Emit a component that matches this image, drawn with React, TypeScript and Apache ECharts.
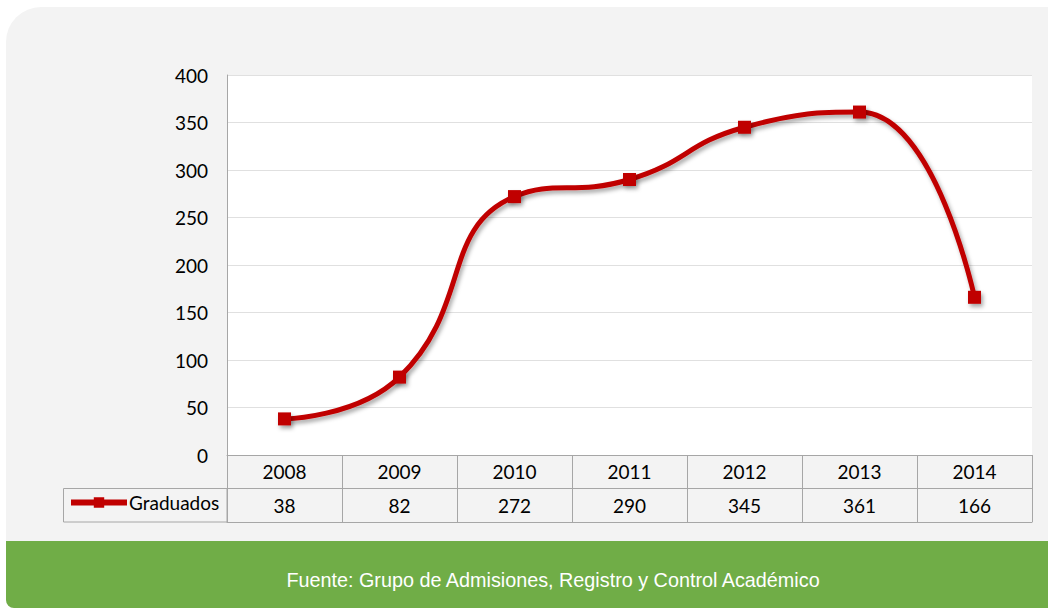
import React, { useEffect, useRef } from "react";
import * as echarts from "echarts";

const years = ["2008", "2009", "2010", "2011", "2012", "2013", "2014"];
const graduados = [38, 82, 272, 290, 345, 361, 166];
const seriesName = "Graduados";
const footerText = "Fuente: Grupo de Admisiones, Registro y Control Académico";
const yTicks = { min: 0, max: 400, interval: 50 };

const FONT = "Lato, 'Noto Sans', sans-serif";
const TABLE = "#a6a6a6";
const RED = "#c00000";

export default function App() {
  const ref = useRef<HTMLDivElement>(null);
  useEffect(() => {
    if (!ref.current) return;
    const chart = echarts.init(ref.current, null, { renderer: "svg" });
    const commonX = {
      type: "category",
      data: years,
      position: "bottom",
      boundaryGap: true,
      gridIndex: 0,
    };
    chart.setOption({
      animation: false,
      backgroundColor: "#ffffff",
      textStyle: { fontFamily: FONT },
      grid: {
        left: 227,
        right: 16,
        top: 75,
        bottom: 154,
        show: true,
        backgroundColor: "#ffffff",
        borderWidth: 0,
        containLabel: false,
      },
      legend: {
        data: [seriesName],
        left: 68,
        top: 493,
        padding: 0,
        itemWidth: 56,
        itemHeight: 13,
        itemGap: 4,
        lineStyle: { width: 6, color: RED },
        textStyle: { fontFamily: FONT, fontSize: 19, color: "#000", padding: [0, 0, 0, -3] },
      },
      yAxis: {
        type: "value",
        min: yTicks.min,
        max: yTicks.max,
        interval: yTicks.interval,
        axisLine: { show: true, lineStyle: { color: TABLE, width: 1 } },
        axisTick: { show: false },
        axisLabel: { fontFamily: FONT, fontSize: 19, color: "#000", margin: 19 },
        splitLine: { show: true, lineStyle: { color: "#e0e0e0", width: 1 } },
      },
      xAxis: [
        {
          ...commonX,
          axisLine: { show: true, lineStyle: { color: TABLE, width: 1 } },
          axisTick: {
            show: true,
            interval: 0,
            length: 67,
            lineStyle: { color: TABLE, width: 1 },
          },
          axisLabel: {
            interval: 0,
            fontFamily: FONT,
            fontSize: 19,
            color: "#000",
            verticalAlign: "middle",
            margin: 16,
          },
          splitLine: { show: false },
        },
        {
          ...commonX,
          offset: 33,
          axisLine: { show: true, lineStyle: { color: TABLE, width: 1 } },
          axisTick: { show: false },
          axisLabel: {
            interval: 0,
            fontFamily: FONT,
            fontSize: 19,
            color: "#000",
            verticalAlign: "middle",
            margin: 17,
            formatter: (_v: string, i: number) => String(graduados[i]),
          },
          splitLine: { show: false },
        },
        {
          ...commonX,
          offset: 67,
          axisLine: { show: true, lineStyle: { color: TABLE, width: 1 } },
          axisTick: { show: false },
          axisLabel: { show: false },
          splitLine: { show: false },
        },
      ],
      graphic: [
        {
          type: "rect",
          z: -100,
          silent: true,
          shape: { x: 6, y: 7, width: 1042, height: 601, r: [35, 0, 0, 8] },
          style: { fill: "#f3f3f3" },
        },
        {
          type: "rect",
          z: -99,
          silent: true,
          shape: { x: 6, y: 541, width: 1042, height: 67, r: [0, 0, 0, 8] },
          style: { fill: "#70ad47" },
        },
        {
          type: "rect",
          z: 5,
          silent: true,
          shape: { x: 63.5, y: 488.5, width: 163.5, height: 33.5 },
          style: { fill: "none", stroke: TABLE, lineWidth: 1 },
        },
        {
          type: "text",
          z: 5,
          silent: true,
          x: 553,
          y: 580,
          style: {
            text: footerText,
            fill: "#ffffff",
            font: "19.8px 'Liberation Sans', Arial, sans-serif",
            textAlign: "center",
            textVerticalAlign: "middle",
          },
        },
      ],
      series: [
        {
          name: seriesName,
          type: "line",
          xAxisIndex: 0,
          data: graduados,
          smooth: 0.5,
          symbol: "rect",
          symbolSize: 13,
          color: RED,
          itemStyle: {
            color: RED,
            shadowColor: "rgba(0,0,0,0.35)",
            shadowBlur: 4,
            shadowOffsetX: 2,
            shadowOffsetY: 3,
          },
          lineStyle: {
            color: RED,
            width: 5,
            shadowColor: "rgba(0,0,0,0.35)",
            shadowBlur: 4,
            shadowOffsetX: 2,
            shadowOffsetY: 3,
          },
        },
      ],
    });
    return () => chart.dispose();
  }, []);
  return (
    <div style={{ position: "absolute", left: 0, top: 0, width: 1048, height: 609 }}>
      <div ref={ref} style={{ width: 1048, height: 609 }} />
    </div>
  );
}
